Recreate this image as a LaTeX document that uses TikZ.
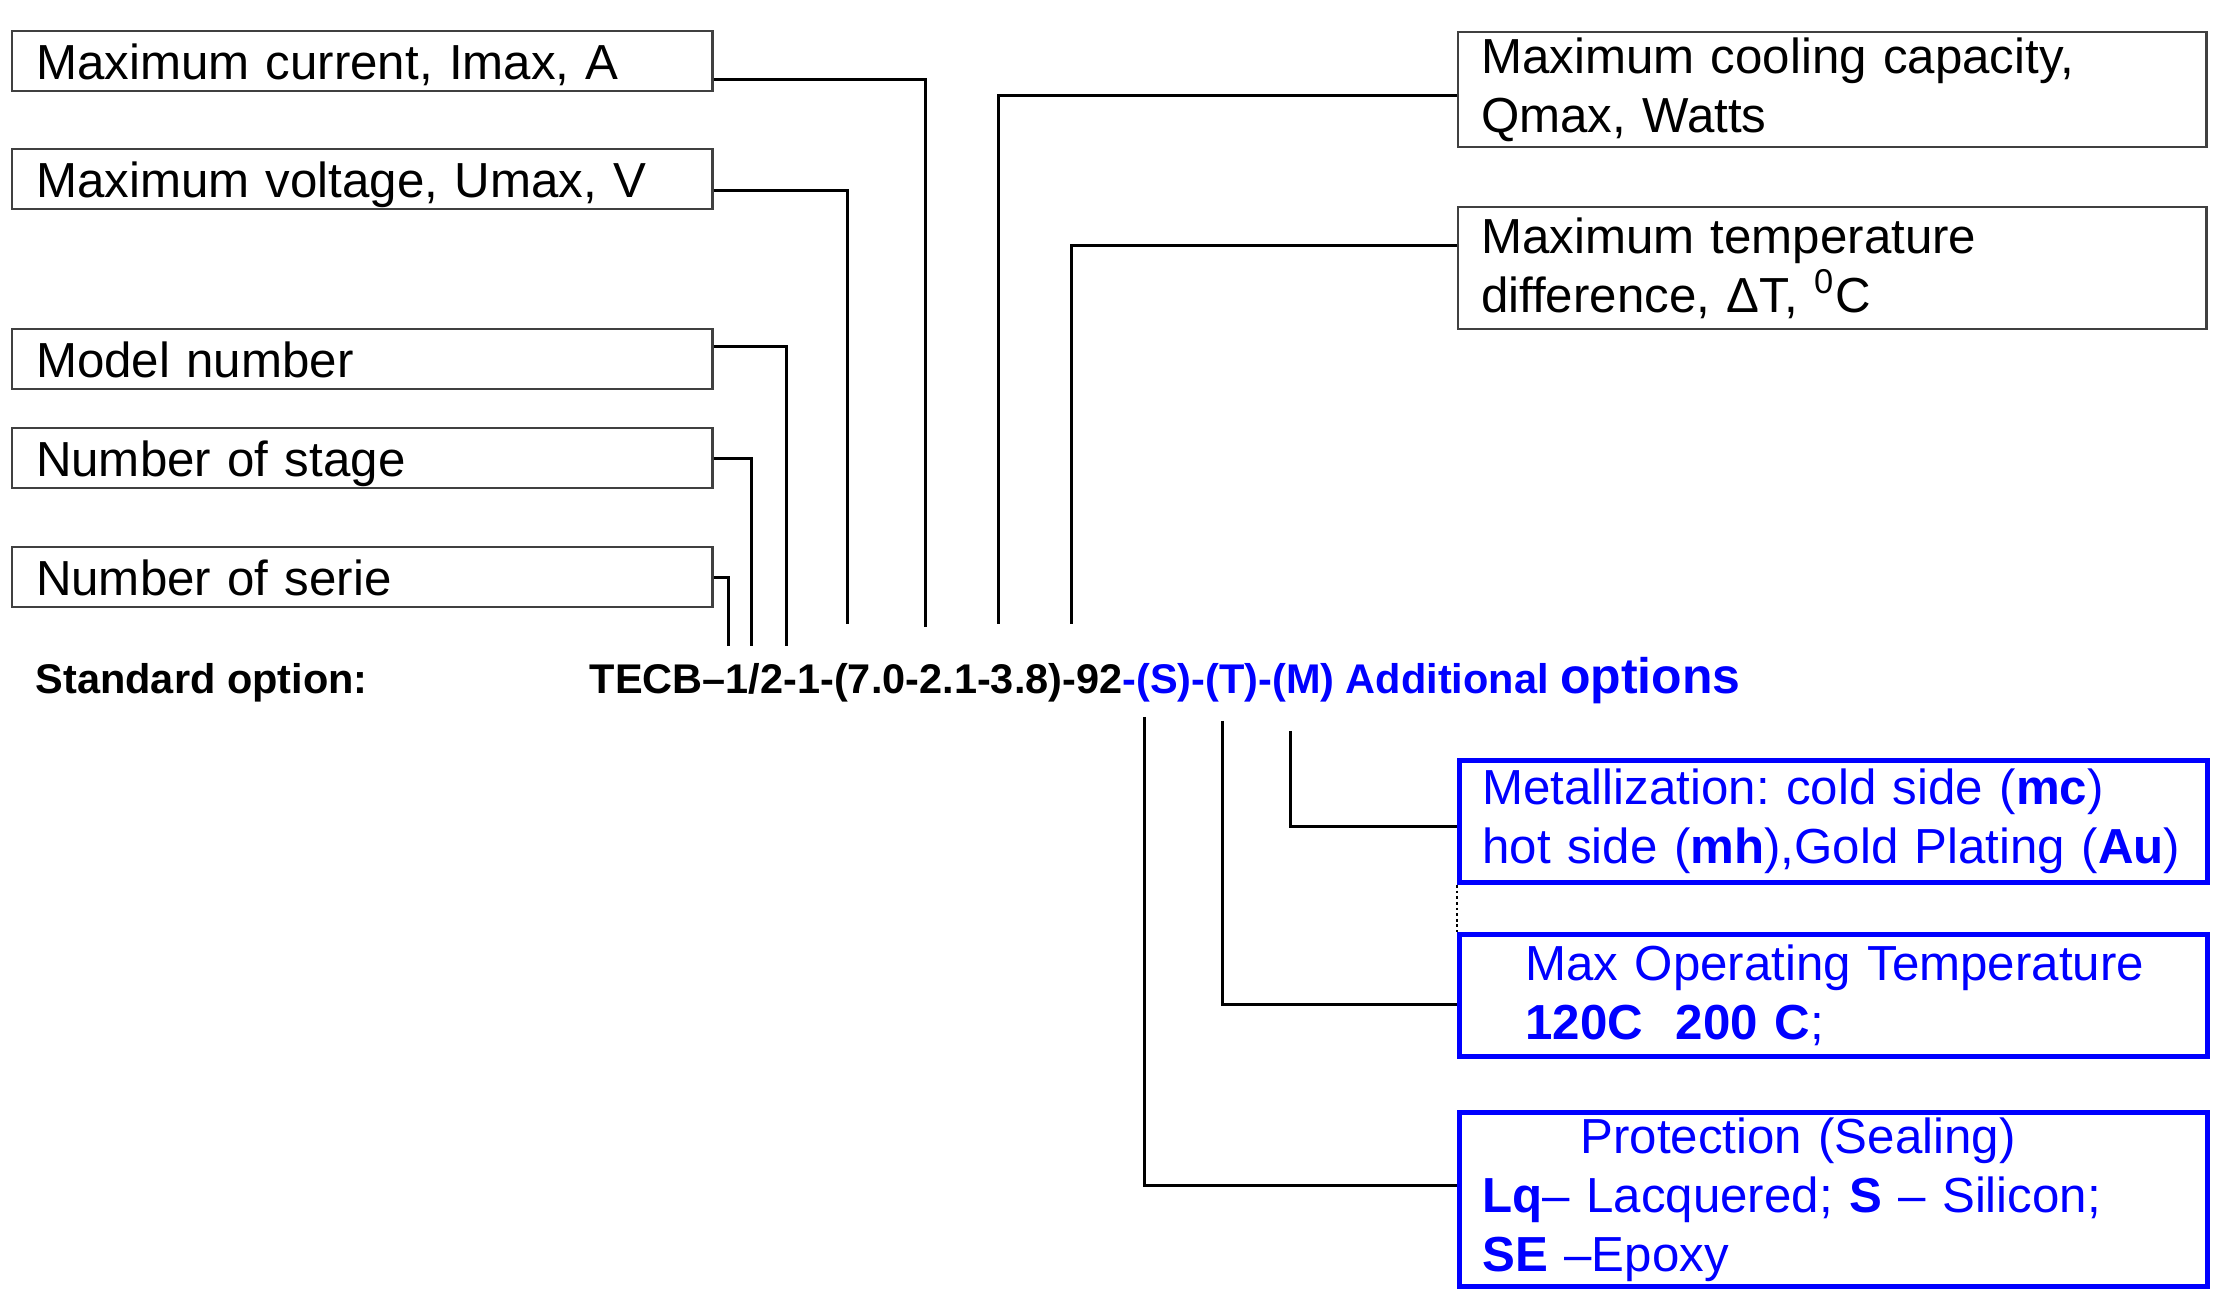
\documentclass[tikz,border=0pt]{standalone}
\usepackage{fontspec}
\setmainfont{Liberation Sans}
\definecolor{optblue}{RGB}{0,0,255}
\newcommand{\boxfont}{\fontsize{14}{16.8}\selectfont\frenchspacing}
\newcommand{\codefont}{\fontsize{11.8}{14}\selectfont\bfseries}
\tikzset{
  lbox/.style={draw=black!75, line width=0.6pt, anchor=north west,
    inner xsep=0.24cm, inner ysep=0pt, minimum width=7cm, minimum height=0.6cm,
    text width=6.52cm, align=left, font=\boxfont, text height=0.36cm, text depth=0pt},
  rbox/.style={draw=black!75, line width=0.6pt, anchor=north west,
    inner xsep=0.23cm, inner ysep=0pt, minimum width=7.48cm,
    text width=7.02cm, align=left, font=\boxfont},
  obox/.style={rbox, draw=optblue, line width=1.4pt, text=optblue},
  codetext/.style={anchor=base west, inner sep=0pt, font=\codefont},
  conn/.style={line width=0.85pt},
}
\begin{document}
\begin{tikzpicture}[x=0.01cm, y=-0.01cm]
\useasboundingbox (0,0) rectangle (2225,1289);
% parameters, left
\node[lbox] (cur) at (11,30) {Maximum current, Imax, A};
\node[lbox] (volt) at (11,148) {Maximum voltage, Umax, V};
\node[lbox] (model) at (11,328) {Model number};
\node[lbox] (stage) at (11,427) {Number of stage};
\node[lbox] (serie) at (11,546) {Number of serie};
% parameters, right
\node[rbox, minimum height=1.15cm] (qmax) at (1457,31)
  {Maximum cooling capacity,\\ Qmax, Watts};
\node[rbox, minimum height=1.22cm] (dtmax) at (1457,206)
  {Maximum temperature\\ difference, ΔT, \textsuperscript{0}C};
% the code
\node[codetext] (std) at (35,694) {Standard option:};
\node[codetext] (code) at (589,694)
  {TECB–1/2-1-(7.0-2.1-3.8)-92\textcolor{optblue}{-(S)-(T)-(M)}
   \textcolor{optblue}{Additional {\fontsize{14.2}{16}\selectfont options}}};
% additional options
\node[obox, minimum height=1.22cm] (metal) at (1457,758)
  {Metallization: cold side (\textbf{mc})\\ hot side (\textbf{mh}),Gold Plating (\textbf{Au})};
\node[obox, minimum height=1.22cm] (tmax) at (1457,932)
  {\hspace*{0.43cm}Max Operating Temperature\\ \hspace*{0.43cm}\textbf{120C\ \ 200 C};};
\node[obox, minimum height=1.74cm] (seal) at (1457,1110)
  {\hspace*{0.98cm}Protection (Sealing)\\ \textbf{Lq}– Lacquered; \textbf{S} – Silicon;\\ \textbf{SE} –Epoxy};
% line ends at the code
\coordinate (curEnd) at (925,627);
\coordinate (voltEnd) at (847,624);
\coordinate (modelEnd) at (786,646);
\coordinate (stageEnd) at (751,646);
\coordinate (serieEnd) at (728,646);
\coordinate (qmaxEnd) at (998,624);
\coordinate (dtmaxEnd) at (1071,624);
\coordinate (sealEnd) at (1144,717);
\coordinate (tmaxEnd) at (1222,721);
\coordinate (metalEnd) at (1290,731);
\draw[conn] ([yshift=-0.185cm]cur.east) -| (curEnd);
\draw[conn] ([yshift=-0.115cm]volt.east) -| (voltEnd);
\draw[conn] ([yshift=0.125cm]model.east) -| (modelEnd);
\draw[conn] (stage.east) -| (stageEnd);
\draw[conn] (serie.east) -| (serieEnd);
\draw[conn] ([yshift=-0.055cm]qmax.west) -| (qmaxEnd);
\draw[conn] ([yshift=0.23cm]dtmax.west) -| (dtmaxEnd);
\draw[conn] (metalEnd) |- ([yshift=-0.05cm]metal.west);
\draw[conn] (tmaxEnd) |- ([yshift=-0.09cm]tmax.west);
\draw[conn] (sealEnd) |- ([yshift=0.14cm]seal.west);
\draw[line width=0.6pt, dash pattern=on 0.8pt off 0.8pt] (metal.south west) -- (tmax.north west);
\end{tikzpicture}
\end{document}
